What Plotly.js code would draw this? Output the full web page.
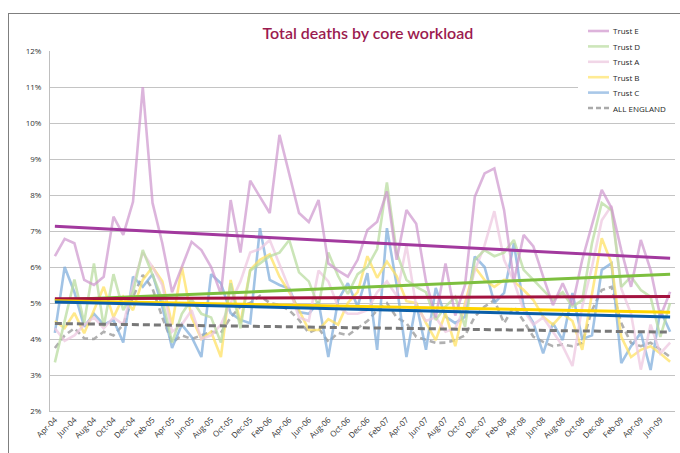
<!DOCTYPE html>
<html>
<head>
<meta charset="utf-8">
<script src="https://cdn.plot.ly/plotly-3.0.1.min.js"></script>
<style>
  html, body { margin: 0; padding: 0; background: #fff; }
  #wrap { position: relative; width: 680px; height: 453px; overflow: hidden; }
  #frame { position: absolute; left: 8px; top: 13px; width: 700px; height: 500px; border: 1.5px solid #7f7f7f; box-sizing: border-box; }
  #chart { position: absolute; left: 0; top: 0; width: 680px; height: 453px; }
</style>
</head>
<body>
<div id="wrap">
  <div id="frame"></div>
  <div id="chart"></div>
</div>
<script>
const months = ['Apr-04','May-04','Jun-04','Jul-04','Aug-04','Sep-04','Oct-04','Nov-04','Dec-04','Jan-05','Feb-05','Mar-05',
  'Apr-05','May-05','Jun-05','Jul-05','Aug-05','Sep-05','Oct-05','Nov-05','Dec-05','Jan-06','Feb-06','Mar-06',
  'Apr-06','May-06','Jun-06','Jul-06','Aug-06','Sep-06','Oct-06','Nov-06','Dec-06','Jan-07','Feb-07','Mar-07',
  'Apr-07','May-07','Jun-07','Jul-07','Aug-07','Sep-07','Oct-07','Nov-07','Dec-07','Jan-08','Feb-08','Mar-08',
  'Apr-08','May-08','Jun-08','Jul-08','Aug-08','Sep-08','Oct-08','Nov-08','Dec-08','Jan-09','Feb-09','Mar-09',
  'Apr-09','May-09','Jun-09','Jul-09'];

const trustE = [6.3,6.78,6.66,5.64,5.5,5.73,7.4,6.89,7.81,11.0,7.78,6.66,
  5.3,6.0,6.7,6.47,6.0,5.25,7.86,6.4,8.4,7.95,7.5,9.67,
  8.6,7.5,7.25,7.86,6.1,5.9,5.73,6.2,7.03,7.26,8.1,6.2,
  7.58,7.2,5.6,4.6,6.1,4.65,5.5,7.95,8.6,8.74,7.58,5.6,
  6.89,6.57,5.73,4.94,5.55,4.94,6.2,7.2,8.14,7.64,6.47,5.45,
  6.75,5.92,4.62,5.31];
const trustD = [3.35,4.5,5.65,4.45,6.1,4.35,5.8,4.8,5.3,6.47,5.8,5.1,
  3.9,4.7,5.1,4.7,4.6,3.9,5.55,4.3,5.9,6.1,6.3,6.4,
  6.75,5.85,5.6,4.9,6.4,5.75,5.25,5.8,6.0,6.5,8.35,6.4,
  5.64,5.45,5.3,4.53,4.9,5.17,4.34,6.2,6.47,6.3,6.4,6.75,
  5.92,5.64,5.36,5.08,5.3,4.9,5.08,6.66,7.78,7.58,5.45,5.73,
  5.36,5.17,4.06,5.0];
const trustA = [4.3,3.95,4.1,4.4,4.6,4.3,4.6,4.4,5.5,6.4,6.0,5.5,
  4.2,4.4,4.8,4.0,4.1,4.4,5.0,5.6,6.4,6.5,6.75,6.1,
  5.4,4.6,4.5,5.9,5.6,4.9,4.7,4.7,4.8,5.3,5.6,5.2,
  6.6,4.9,4.5,4.6,4.2,4.3,4.9,5.9,6.6,7.55,6.2,5.6,
  4.8,4.4,4.6,4.2,3.8,3.25,4.9,6.0,7.3,7.7,5.4,4.7,
  3.15,4.4,3.6,3.9];
const trustB = [4.5,4.3,4.72,4.16,4.8,5.45,4.6,5.17,4.8,5.64,6.0,5.6,
  4.4,6.0,4.6,4.0,4.2,3.5,5.64,4.44,5.92,6.2,6.35,5.73,
  5.3,4.8,4.25,4.25,4.55,4.4,5.0,5.3,6.3,5.7,6.15,5.75,
  5.05,5.0,4.45,3.97,4.72,3.8,5.0,6.0,5.64,5.45,5.64,5.6,
  5.36,5.08,4.62,4.4,4.7,4.5,3.7,5.3,6.8,6.1,4.06,3.5,
  3.7,3.8,3.6,3.37];
const trustC = [4.17,6.0,5.3,4.34,4.7,4.4,4.53,3.9,5.73,5.45,5.8,4.9,
  3.75,4.4,4.06,3.5,5.8,5.55,4.72,4.53,4.44,7.08,5.64,5.5,
  5.4,4.75,4.7,5.03,3.5,5.08,5.55,4.9,5.83,3.7,7.08,5.5,
  3.5,5.0,3.7,5.42,4.62,4.44,4.62,6.29,6.0,5.0,5.28,6.66,
  4.9,4.44,3.6,4.44,3.97,5.28,4.0,4.1,5.92,6.1,3.33,3.8,
  4.17,3.14,4.8,4.2];
const allEngland = [3.75,4.1,4.3,4.02,4.0,4.2,4.1,4.4,5.17,5.78,5.4,4.6,
  3.9,4.1,4.0,4.1,4.2,4.17,4.6,4.9,5.0,5.2,5.0,4.94,
  4.8,4.53,4.17,4.3,3.92,4.17,4.1,4.3,4.5,4.8,5.0,4.6,
  4.44,4.06,3.97,3.89,3.9,3.97,4.1,4.62,4.9,5.08,4.44,4.9,
  4.5,4.06,3.92,3.8,3.85,3.8,3.89,4.8,5.36,5.45,4.44,3.89,
  3.8,3.9,3.7,3.5];

// linear trend lines: [value at first month, value at last month]
const trendE = [7.13, 6.24];
const trendD = [5.08, 5.80];
const trendA = [5.12, 5.18];
const trendB = [5.06, 4.74];
const trendC = [5.03, 4.61];
const trendEngland = [4.43, 4.19];

const legendNames = ['Trust E', 'Trust D', 'Trust A', 'Trust B', 'Trust C', 'ALL ENGLAND'];

const tickLabels = months.filter((m, i) => i % 2 === 0);
const idx = months.map((m, i) => i);
const tickIdx = idx.filter(i => i % 2 === 0);
const ends = [0, months.length - 1];

const styles = {
  'Trust E': { color: 'rgba(205,150,205,0.7)', dash: 'solid', legend: '#DDB3DB' },
  'Trust D': { color: 'rgba(185,220,160,0.75)', dash: 'solid', legend: '#CDE6BA' },
  'Trust A': { color: 'rgba(238,200,224,0.75)', dash: 'solid', legend: '#F1D6E7' },
  'Trust B': { color: 'rgba(255,225,100,0.75)', dash: 'solid', legend: '#FFEB94' },
  'Trust C': { color: 'rgba(130,175,220,0.75)', dash: 'solid', legend: '#A9C8E8' },
  'ALL ENGLAND': { color: 'rgba(150,150,150,0.75)', dash: '6px,4px', legend: '#AAAAAA' }
};

function series(name, y) {
  const s = styles[name];
  return { type: 'scatter', mode: 'lines', name: name, x: idx, y: y, showlegend: false,
    line: { color: s.color, width: 2.6, dash: s.dash }, hoverinfo: 'skip' };
}
function trend(y, color, dash) {
  return { type: 'scatter', mode: 'lines', x: ends, y: y, showlegend: false,
    line: { color: color, width: 3, dash: dash || 'solid' }, hoverinfo: 'skip' };
}

const data = [
  series('ALL ENGLAND', allEngland),
  series('Trust C', trustC),
  series('Trust B', trustB),
  series('Trust A', trustA),
  series('Trust D', trustD),
  series('Trust E', trustE),
  trend(trendEngland, '#787878', '7px,4px'),
  trend(trendD, '#7DBF3F'),
  trend(trendA, '#A3123F'),
  trend(trendB, '#FFD500'),
  trend(trendC, '#0B5EA8'),
  trend(trendE, '#A2399E')
];

// custom legend (pixel layout converted to paper coordinates)
const L = 50, W = 625, B = 411, H = 360;
const px = v => (v - L) / W;
const py = v => (B - v) / H;
const shapes = [
  { type: 'rect', xref: 'paper', yref: 'paper', x0: px(578), x1: px(690), y0: py(119), y1: py(18),
    fillcolor: '#ffffff', line: { width: 0 }, layer: 'above' }
];
const annotations = [];
legendNames.forEach((n, i) => {
  const yy = 31 + 15.4 * i;
  const s = styles[n];
  shapes.push({ type: 'line', xref: 'paper', yref: 'paper', x0: px(588), x1: px(609), y0: py(yy), y1: py(yy),
    line: { color: s.legend, width: 2.6, dash: n === 'ALL ENGLAND' ? '5px,3px' : 'solid' }, layer: 'above' });
  annotations.push({ xref: 'paper', yref: 'paper', x: px(611), y: py(yy), xanchor: 'left', yanchor: 'middle',
    text: n, showarrow: false, font: { size: 8, color: '#262626' } });
});

const layout = {
  width: 680, height: 453,
  margin: { l: 50, r: 5, t: 51, b: 42 },
  paper_bgcolor: 'rgba(0,0,0,0)',
  plot_bgcolor: 'rgba(0,0,0,0)',
  showlegend: false,
  title: { text: 'Total deaths by core workload', x: 0.541, xanchor: 'center', y: 0.927, yanchor: 'middle',
    font: { family: 'Lato, "Open Sans", sans-serif', size: 16, color: '#9B1B4F', weight: 600 } },
  font: { family: '"Liberation Sans Narrow", "Open Sans", sans-serif', size: 8, color: '#333333' },
  xaxis: {
    range: [-0.5, 63.5], tickvals: tickIdx, ticktext: tickLabels, tickangle: -45,
    showgrid: false, zeroline: false, showline: true, linecolor: '#BFBFBF', linewidth: 1,
    ticks: '', tickfont: { size: 8, color: '#333333' }, fixedrange: true
  },
  yaxis: {
    range: [2, 12], dtick: 1, tick0: 2, ticksuffix: '%', showgrid: true, gridcolor: '#C4C4C4', gridwidth: 1,
    zeroline: false, showline: true, linecolor: '#BFBFBF', linewidth: 1,
    ticks: 'outside', ticklen: 6, tickcolor: 'rgba(0,0,0,0)', tickfont: { size: 8, color: '#333333' }, fixedrange: true
  },
  shapes: shapes,
  annotations: annotations
};

Plotly.newPlot('chart', data, layout, { staticPlot: true, displayModeBar: false });
</script>
</body>
</html>
